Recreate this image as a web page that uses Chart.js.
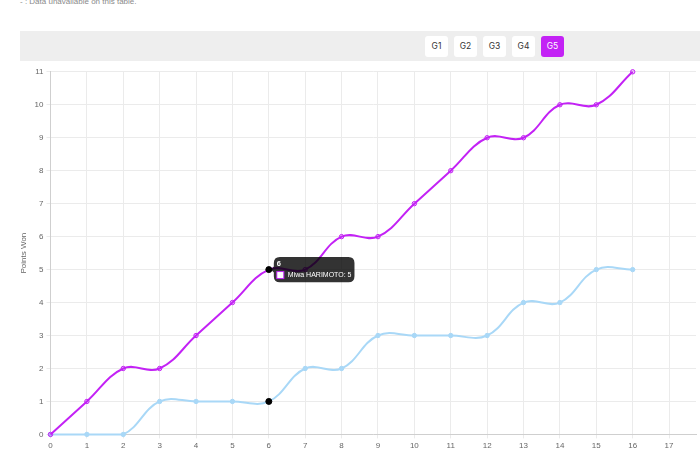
<!DOCTYPE html>
<html>
<head>
<meta charset="utf-8">
<script src="https://cdn.jsdelivr.net/npm/chart.js@4.4.0/dist/chart.umd.min.js"></script>
<style>
  html, body { margin: 0; padding: 0; background: #fff; overflow: hidden; }
  body { width: 700px; height: 456px; position: relative; font-family: Inter, "Liberation Sans", Arial, sans-serif; }
  .note { position: absolute; left: 20px; top: -3px; font-size: 8px; color: #8a8a8a; font-family: "Liberation Sans", Arial, sans-serif; }
  .bar { position: absolute; left: 20px; top: 31px; width: 690px; height: 30px; background: #eeeeee; }
  .games { position: absolute; left: 405px; top: 5px; display: flex; gap: 6px; }
  .games span { display: block; width: 23px; height: 21px; line-height: 21px; text-align: center; background: #fff; border-radius: 3px; font-size: 8.5px; color: #333; }
  .games span.on { background: #c322f5; color: #fff; }
  .wrap { position: absolute; left: 13px; top: 64px; width: 687px; height: 390px; }
</style>
</head>
<body>
  <div class="note">- : Data unavailable on this table.</div>
  <div class="bar"><div class="games" id="games"></div></div>
  <div class="wrap"><canvas id="pointsChart"></canvas></div>

<script>
  const rallies = [0, 1, 2, 3, 4, 5, 6, 7, 8, 9, 10, 11, 12, 13, 14, 15, 16];
  const harimotoPoints = [0, 1, 2, 2, 3, 4, 5, 5, 6, 6, 7, 8, 9, 9, 10, 10, 11];
  const opponentPoints = [0, 0, 0, 1, 1, 1, 1, 2, 2, 3, 3, 3, 3, 4, 4, 5, 5];
  const gameTabs = ['G1', 'G2', 'G3', 'G4', 'G5'];
  const activeGame = 'G5';

  const purple = '#c322f5';
  const blue = '#a9d8f7';

  const games = document.getElementById('games');
  gameTabs.forEach(g => {
    const s = document.createElement('span');
    s.textContent = g;
    if (g === activeGame) s.className = 'on';
    games.appendChild(s);
  });

  Chart.defaults.font.family = '"Liberation Sans", Arial, sans-serif';
  Chart.defaults.font.size = 8;
  Chart.defaults.color = '#666';

  const ctx = document.getElementById('pointsChart').getContext('2d');
  const chart = new Chart(ctx, {
    type: 'line',
    data: {
      datasets: [{
        label: 'Miwa HARIMOTO',
        data: rallies.map((r, i) => ({ x: r, y: harimotoPoints[i] })),
        borderColor: purple,
        backgroundColor: 'rgba(195, 34, 245, 0.2)',
        borderWidth: 2,
        pointRadius: 2.2,
        pointBorderWidth: 1,
        pointHoverRadius: 3,
        pointHoverBackgroundColor: '#000',
        pointHoverBorderColor: '#000',
        tension: 0.4,
        clip: false
      }, {
        label: 'Opponent',
        data: rallies.map((r, i) => ({ x: r, y: opponentPoints[i] })),
        borderColor: blue,
        backgroundColor: blue,
        borderWidth: 2,
        pointRadius: 2.2,
        pointBorderWidth: 1,
        pointHoverRadius: 3,
        pointHoverBackgroundColor: '#000',
        pointHoverBorderColor: '#000',
        tension: 0.4,
        clip: false
      }]
    },
    options: {
      responsive: true,
      maintainAspectRatio: false,
      animation: false,
      events: [],
      layout: { padding: 0 },
      scales: {
        x: {
          type: 'linear',
          min: 0,
          max: 17.74,
          grid: { color: '#ebebeb', tickLength: 4 },
          border: { color: '#cfcfcf' },
          ticks: { stepSize: 1, includeBounds: false, padding: 3 }
        },
        y: {
          min: 0,
          max: 11,
          grid: { color: '#ebebeb', tickLength: 4 },
          border: { color: '#cfcfcf' },
          ticks: { stepSize: 1, padding: 3 },
          title: { display: true, text: 'Points Won', font: { size: 8 }, padding: { top: 6, bottom: 3 } }
        }
      },
      plugins: {
        legend: { display: false },
        tooltip: {
          backgroundColor: 'rgba(0,0,0,0.8)',
          titleFont: { size: 7.5, weight: 'bold' },
          bodyFont: { size: 7 },
          padding: 3,
          titleMarginBottom: 2,
          boxWidth: 7,
          boxHeight: 7,
          boxPadding: 2,
          caretSize: 3,
          caretPadding: 2,
          xAlign: 'left',
          yAlign: 'center',
          callbacks: {
            title: items => String(items[0].parsed.x),
            labelColor: () => ({ borderColor: purple, backgroundColor: '#fff', borderWidth: 1 })
          }
        }
      }
    }
  });

  // hover state at rally 6, tooltip only for Harimoto
  chart.setActiveElements([
    { datasetIndex: 0, index: 6 },
    { datasetIndex: 1, index: 6 }
  ]);
  const pt = chart.getDatasetMeta(0).data[6];
  chart.tooltip.setActiveElements([{ datasetIndex: 0, index: 6 }], { x: pt.x, y: pt.y });
  chart.update();
</script>
</body>
</html>
